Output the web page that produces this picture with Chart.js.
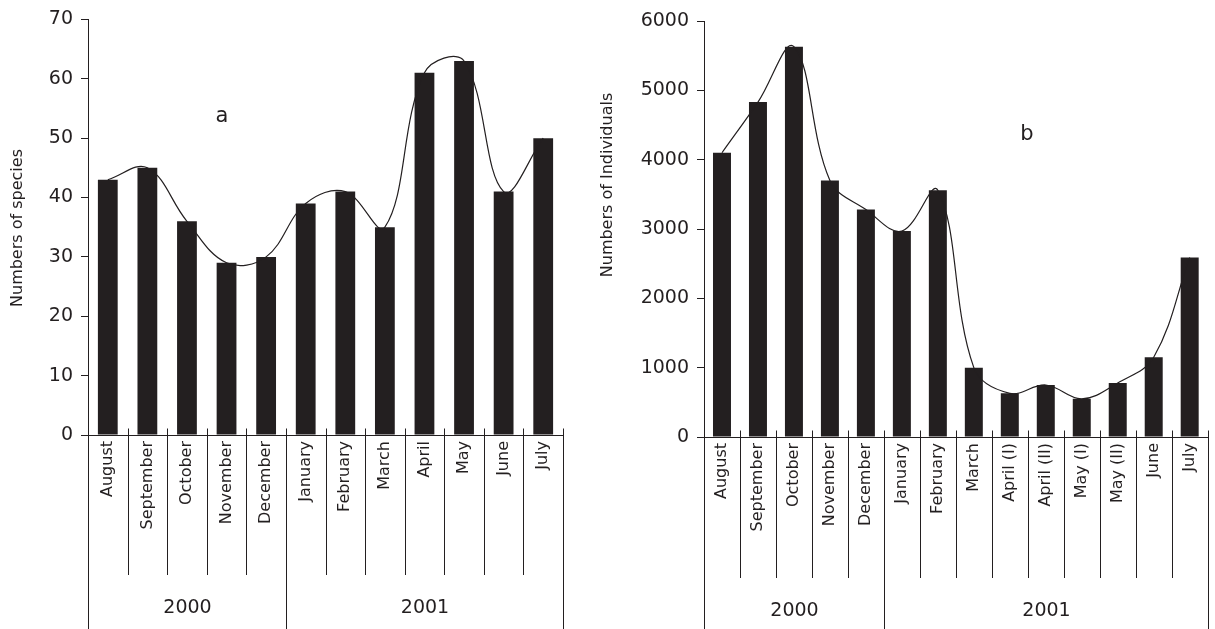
<!DOCTYPE html>
<html>
<head>
<meta charset="utf-8">
<script src="https://cdn.jsdelivr.net/npm/chart.js@4.4.1/dist/chart.umd.min.js"></script>
<style>
  html, body { margin: 0; padding: 0; background: #fff; }
  #wrap { position: relative; width: 1215px; height: 629px; overflow: hidden; }
  canvas { position: absolute; top: 0; }
  #speciesChart { left: 0; }
  #individualsChart { left: 595px; }
</style>
</head>
<body>
<div id="wrap">
  <canvas id="speciesChart" width="595" height="629"></canvas>
  <canvas id="individualsChart" width="620" height="629"></canvas>
</div>
<script>
// data (a) - number of species per month
const speciesMonths = ['August', 'September', 'October', 'November', 'December', 'January',
  'February', 'March', 'April', 'May', 'June', 'July'];
const speciesCounts = [43, 45, 36, 29, 30, 39, 41, 35, 61, 63, 41, 50];
const speciesTicks = [0, 10, 20, 30, 40, 50, 60, 70];
const speciesYearSpans = [5, 7];

// data (b) - number of individuals per sampling
const individualMonths = ['August', 'September', 'October', 'November', 'December', 'January',
  'February', 'March', 'April (I)', 'April (II)', 'May (I)', 'May (II)', 'June', 'July'];
const individualCounts = [4100, 4830, 5630, 3700, 3280, 2970, 3560, 1000, 630, 750, 550, 780, 1150, 2590];
const individualTicks = [0, 1000, 2000, 3000, 4000, 5000, 6000];
const individualYearSpans = [5, 9];

const years = ['2000', '2001'];

const INK = '#231f20';
const FONT = "'DejaVu Sans', sans-serif";
Chart.defaults.font.family = FONT;
Chart.defaults.color = INK;

// month separators, year brackets, y title and panel letter
const yearGroups = {
  id: 'yearGroups',
  afterDraw(chart, args, o) {
    const ctx = chart.ctx;
    const x = chart.scales.x;
    const n = chart.data.labels.length;
    const axisY = Math.round(x.top) + 0.5;
    const edge = i => {
      let px;
      if (i === 0) px = x.left;
      else if (i === n) px = x.right;
      else px = (x.getPixelForValue(i - 1) + x.getPixelForValue(i)) / 2;
      return Math.round(px) + 0.5;
    };

    const yearEdges = [0];
    let acc = 0;
    o.spans.forEach(s => { acc += s; yearEdges.push(acc); });

    ctx.save();
    ctx.strokeStyle = INK;
    ctx.lineWidth = 1;
    ctx.beginPath();
    for (let i = 1; i < n; i++) {
      if (yearEdges.includes(i)) continue;
      const px = edge(i);
      ctx.moveTo(px, axisY - 7);
      ctx.lineTo(px, o.monthBottom);
    }
    yearEdges.forEach(i => {
      const px = edge(i);
      ctx.moveTo(px, i === 0 ? axisY : axisY - 7);
      ctx.lineTo(px, chart.height);
    });
    ctx.stroke();

    ctx.fillStyle = INK;
    ctx.textAlign = 'center';
    ctx.textBaseline = 'middle';
    ctx.font = '19px ' + FONT;
    o.years.forEach((yr, k) => {
      const cx = (edge(yearEdges[k]) + edge(yearEdges[k + 1])) / 2;
      ctx.fillText(yr, cx, o.yearY);
    });

    ctx.font = '21px ' + FONT;
    ctx.fillText(o.letter, o.letterX, o.letterY);

    ctx.font = '16px ' + FONT;
    ctx.translate(o.titleX, o.titleY);
    ctx.rotate(-Math.PI / 2);
    ctx.fillText(o.title, 0, 0);
    ctx.restore();
  }
};

function makeChart(canvasId, labels, values, ticks, cfg) {
  const ctx = document.getElementById(canvasId);
  return new Chart(ctx.getContext('2d'), {
    type: 'bar',
    data: {
      labels: labels,
      datasets: [{
        type: 'line',
        data: values,
        borderColor: INK,
        borderWidth: 1.2,
        pointRadius: 0,
        tension: 0.38,
        fill: false,
        order: 0
      }, {
        data: values,
        backgroundColor: INK,
        barPercentage: 0.5,
        categoryPercentage: 1,
        order: 1
      }]
    },
    options: {
      responsive: false,
      animation: false,
      layout: { padding: cfg.padding },
      plugins: {
        legend: { display: false },
        tooltip: { enabled: false },
        yearGroups: cfg.groups
      },
      scales: {
        x: {
          grid: { display: false, drawTicks: false },
          border: { display: true, color: INK, width: 1 },
          ticks: { autoSkip: false, minRotation: 90, maxRotation: 90, padding: 6, font: { size: 16 }, color: INK },
          afterFit: s => { s.height = cfg.xHeight; }
        },
        y: {
          min: ticks[0],
          max: ticks[ticks.length - 1],
          afterBuildTicks: s => { s.ticks = ticks.map(v => ({ value: v })); },
          grid: { drawOnChartArea: false, drawTicks: true, tickLength: 7, color: INK },
          border: { display: true, color: INK, width: 1 },
          ticks: { padding: 8, font: { size: 19 }, color: INK, callback: v => String(v) },
          afterFit: s => { s.width = cfg.yWidth; }
        }
      }
    },
    plugins: [yearGroups]
  });
}

makeChart('speciesChart', speciesMonths, speciesCounts, speciesTicks, {
  padding: { top: 19, right: 32, bottom: 0, left: 0 },
  yWidth: 88,
  xHeight: 194,
  groups: {
    spans: speciesYearSpans, years: years, monthBottom: 575, yearY: 608,
    title: 'Numbers of species', titleX: 18, titleY: 228,
    letter: 'a', letterX: 222, letterY: 117
  }
});

makeChart('individualsChart', individualMonths, individualCounts, individualTicks, {
  padding: { top: 21, right: 3, bottom: 0, left: 0 },
  yWidth: 109,
  xHeight: 192,
  groups: {
    spans: individualYearSpans, years: years, monthBottom: 578, yearY: 611,
    title: 'Numbers of Individuals', titleX: 13, titleY: 185,
    letter: 'b', letterX: 432, letterY: 135
  }
});
</script>
</body>
</html>
